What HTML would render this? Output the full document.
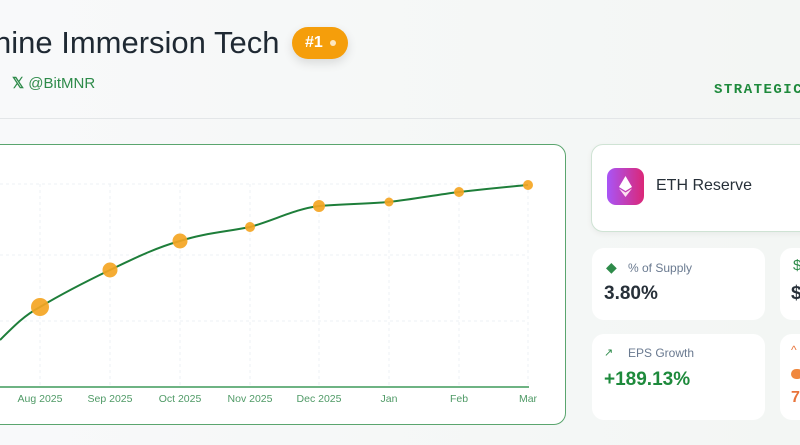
<!DOCTYPE html>
<html><head><meta charset="utf-8"><style>
body{margin:0;width:800px;height:445px;overflow:hidden;background:linear-gradient(90deg,#f8f9fa,#f3f6f4);font-family:"Liberation Sans",sans-serif;position:relative}
.a{position:absolute}
.card{position:absolute;background:#fff;border-radius:12px}
</style></head><body>
<div class="a" style="left:-6px;top:25px;font-size:31px;color:#1f2933;white-space:nowrap">hine Immersion Tech</div>
<div class="a" style="left:292px;top:27px;width:56px;height:32px;border-radius:16px;background:#f59e0b;box-shadow:0 4px 10px rgba(0,0,0,.12)"><span class="a" style="left:13px;top:7px;color:#fff;font-weight:bold;font-size:16px">#1</span><span class="a" style="left:38px;top:13px;width:6px;height:6px;border-radius:3px;background:#fde7c0"></span></div>
<div class="a" style="left:12px;top:74px;font-size:15px;color:#2e8b4a"><b>𝕏</b> @BitMNR</div>
<div class="a" style="left:714px;top:82px;font-family:'Liberation Mono',monospace;font-size:14px;color:#1e8a3c;letter-spacing:1.5px;font-weight:bold">STRATEGIC</div>
<div class="a" style="left:0;top:118px;width:800px;height:1px;background:#e3e6e8"></div>
<div class="card" style="left:-20px;top:144px;width:584px;height:279px;border:1.5px solid #5aa56e;border-radius:12px"></div>
<svg class="a" style="left:0;top:0" width="570" height="445">
<g stroke="#edf2f4" stroke-dasharray="3,3" stroke-width="1">
<line x1="0" x2="528" y1="184" y2="184"/><line x1="0" x2="528" y1="255" y2="255"/><line x1="0" x2="528" y1="321" y2="321"/>
<line x1="40" x2="40" y1="184" y2="387"/><line x1="110" x2="110" y1="184" y2="387"/><line x1="180" x2="180" y1="184" y2="387"/><line x1="250" x2="250" y1="184" y2="387"/><line x1="319" x2="319" y1="184" y2="387"/><line x1="389" x2="389" y1="184" y2="387"/><line x1="459" x2="459" y1="184" y2="387"/><line x1="528" x2="528" y1="184" y2="387"/>
</g>
<line x1="0" x2="529" y1="387" y2="387" stroke="#3f9a5a" stroke-width="1.5"/>
<path d="M0,340 C15,325 25,315 40,307 C65,292 85,282 110,270 C135,258 155,248 180,241 C205,233 225,232 250,227 C275,220 295,209 319,206 C345,204 365,204 389,202 C415,199 435,195 459,192 C485,189 505,187 528,185" fill="none" stroke="#1e7e3a" stroke-width="2"/>
<g fill="#f5a623" opacity=".92">
<circle cx="40" cy="307" r="9"/><circle cx="110" cy="270" r="7.5"/><circle cx="180" cy="241" r="7.5"/><circle cx="250" cy="227" r="5"/><circle cx="319" cy="206" r="6"/><circle cx="389" cy="202" r="4.5"/><circle cx="459" cy="192" r="5"/><circle cx="528" cy="185" r="5"/>
</g>
<g fill="#4f9a66" font-size="10.5" text-anchor="middle" font-family="Liberation Sans">
<text x="40" y="402">Aug 2025</text><text x="110" y="402">Sep 2025</text><text x="180" y="402">Oct 2025</text><text x="250" y="402">Nov 2025</text><text x="319" y="402">Dec 2025</text><text x="389" y="402">Jan</text><text x="459" y="402">Feb</text><text x="528" y="402">Mar</text>
</g>
</svg>
<div class="card" style="left:591px;top:144px;width:230px;height:86px;border:1px solid #cfe3d4;box-shadow:0 2px 6px rgba(0,0,0,.05)"></div>
<div class="a" style="left:607px;top:168px;width:37px;height:37px;border-radius:9px;background:linear-gradient(90deg,#a855f7,#db2777)">
<svg width="37" height="37"><polygon points="18.5,8 25,19 18.5,23 12,19" fill="#fff"/><polygon points="18.5,24.5 25,20.5 18.5,29 12,20.5" fill="#fde0f0"/></svg></div>
<div class="a" style="left:656px;top:177px;font-size:16px;color:#273039">ETH Reserve</div>
<div class="card" style="left:592px;top:248px;width:173px;height:72px"></div>
<div class="card" style="left:780px;top:248px;width:60px;height:72px"></div>
<div class="card" style="left:592px;top:334px;width:173px;height:86px"></div>
<div class="card" style="left:780px;top:334px;width:60px;height:86px"></div>
<div class="a" style="left:606px;top:259px;color:#2e8b4a;font-size:14px">◆</div>
<div class="a" style="left:628px;top:261px;font-size:12px;color:#6a7a90">% of Supply</div>
<div class="a" style="left:604px;top:283px;font-size:19px;font-weight:bold;color:#273039">3.80%</div>
<div class="a" style="left:604px;top:346px;font-size:11px;color:#2e8b4a">↗</div>
<div class="a" style="left:628px;top:346px;font-size:12px;color:#6a7a90">EPS Growth</div>
<div class="a" style="left:604px;top:369px;font-size:19px;font-weight:bold;color:#1e8a3c">+189.13%</div>
<div class="a" style="left:793px;top:257px;font-size:15px;color:#2e8b4a">$</div>
<div class="a" style="left:791px;top:283px;font-size:19px;font-weight:bold;color:#273039">$</div>
<div class="a" style="left:791px;top:343px;font-size:12px;color:#e8743b">^</div>
<div class="a" style="left:791px;top:369px;width:12px;height:10px;border-radius:5px;background:#f0883e"></div>
<div class="a" style="left:791px;top:389px;font-size:16px;font-weight:bold;color:#e8743b">7</div>
</body></html>
